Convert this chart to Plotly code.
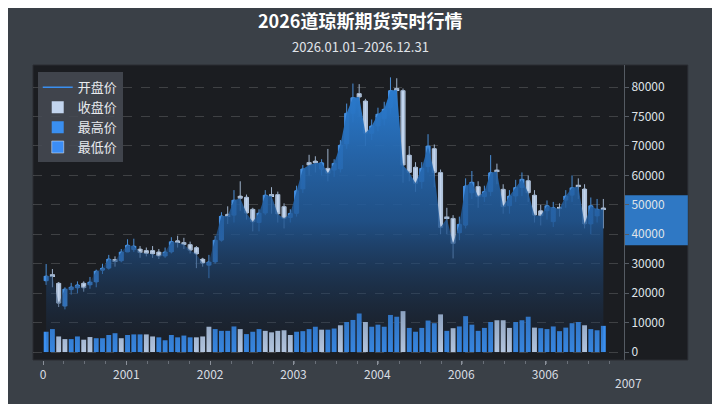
import plotly.graph_objects as go

# candle data (axis units, thousands)
opens = [24.2, 26.2, 23.4, 15.6, 21.2, 21.8, 23.4, 22.8, 23.8, 27.8,
         28.5, 31.4, 31.0, 34.0, 34.8, 35.0, 34.5, 34.5, 34.0, 32.6,
         34.0, 37.8, 37.2, 36.5, 35.5, 31.6, 29.5, 30.6, 38.0, 46.8,
         46.5, 53.0, 52.6, 48.5, 44.0, 47.2, 53.5, 53.5, 49.4, 45.7,
         47.1, 55.4, 64.4, 64.9, 62.1, 62.4, 61.8, 62.2, 70.7, 81.1,
         87.8, 85.3, 74.3, 76.8, 79.3, 83.1, 89.5, 88.8, 66.9, 62.8,
         57.9, 63.0, 69.1, 61.0, 45.8, 45.4, 40.5, 43.1, 54.1, 56.2,
         52.8, 54.5, 61.8, 55.3, 49.7, 53.0, 55.9, 58.2, 53.3, 48.0,
         48.0, 44.3, 49.1, 51.6, 53.3, 56.6, 55.4, 43.5, 46.2, 48.9]
closes = [25.8, 25.8, 16.6, 21.4, 22.1, 22.8, 21.8, 23.8, 27.5, 28.5,
          31.6, 30.9, 34.0, 36.3, 36.0, 33.8, 33.5, 33.3, 32.6, 34.0,
          37.5, 37.2, 36.5, 34.6, 33.3, 30.2, 30.6, 38.0, 46.2, 46.2,
          51.6, 52.2, 47.2, 44.2, 47.2, 53.3, 53.0, 46.9, 45.4, 47.1,
          54.8, 62.2, 63.5, 64.2, 64.3, 60.7, 64.1, 70.3, 81.1, 86.4,
          86.6, 74.3, 76.8, 80.8, 82.5, 88.8, 89.0, 63.5, 61.0, 57.3,
          62.4, 70.0, 61.0, 42.3, 45.4, 36.9, 43.4, 56.4, 57.7, 52.8,
          54.5, 60.9, 61.3, 49.4, 53.0, 55.9, 58.7, 54.1, 46.5, 46.3,
          49.7, 49.0, 48.7, 53.0, 55.8, 56.2, 43.5, 49.7, 48.5, 48.4]
highs = [29.9, 28.2, 23.8, 22.0, 23.5, 24.0, 24.0, 25.5, 28.0, 30.0,
         33.0, 32.5, 35.0, 38.3, 38.5, 36.0, 35.5, 36.0, 35.0, 35.5,
         39.0, 39.5, 38.8, 37.5, 36.0, 32.0, 33.0, 39.5, 47.5, 49.5,
         55.0, 58.0, 53.5, 49.0, 48.5, 55.0, 56.0, 54.5, 50.5, 48.5,
         56.5, 63.5, 67.0, 66.5, 65.5, 69.0, 65.5, 72.0, 84.4, 91.2,
         91.0, 86.0, 79.0, 83.0, 85.0, 93.3, 93.0, 89.5, 70.0, 64.5,
         64.5, 74.0, 70.5, 62.0, 49.0, 46.5, 46.0, 59.0, 61.5, 58.0,
         56.5, 66.9, 64.0, 57.0, 55.0, 58.5, 61.0, 60.0, 55.0, 50.0,
         51.5, 51.0, 50.5, 55.0, 60.0, 59.0, 57.0, 52.5, 52.0, 52.0]
lows = [22.8, 22.0, 15.3, 14.5, 19.5, 20.0, 20.5, 21.5, 22.0, 26.5,
        28.0, 29.0, 30.5, 34.0, 34.0, 32.0, 32.5, 32.0, 31.6, 32.0,
        33.5, 35.5, 35.0, 33.5, 28.5, 29.0, 25.1, 30.0, 37.5, 43.5,
        44.0, 48.0, 45.0, 41.0, 41.0, 46.5, 47.0, 44.0, 42.0, 44.0,
        46.0, 54.0, 60.0, 61.0, 60.0, 58.0, 59.5, 61.0, 69.0, 78.0,
        80.0, 70.0, 72.0, 75.0, 77.0, 81.0, 84.0, 57.5, 58.0, 54.4,
        55.5, 61.0, 56.0, 40.0, 40.0, 31.8, 38.0, 42.0, 52.0, 49.0,
        51.0, 53.0, 57.0, 47.0, 47.0, 51.0, 53.0, 51.0, 44.0, 43.0,
        45.0, 42.5, 46.0, 49.0, 51.0, 52.0, 42.0, 40.0, 44.0, 42.0]
volumes = [6.9, 7.8, 5.3, 4.4, 4.4, 5.3, 4.2, 5.1, 4.7, 4.7,
           5.8, 6.4, 4.7, 5.8, 6.0, 6.0, 6.0, 5.3, 5.0, 4.0,
           5.8, 5.0, 5.6, 5.0, 5.0, 5.3, 8.6, 7.8, 7.2, 7.2,
           8.7, 7.8, 6.1, 6.9, 7.8, 7.2, 6.7, 7.2, 7.4, 5.8,
           6.9, 7.1, 7.8, 8.6, 7.6, 7.6, 8.0, 9.1, 10.2, 10.9,
           13.1, 10.2, 8.6, 9.3, 8.6, 12.6, 12.0, 13.9, 8.2, 6.9,
           8.2, 10.7, 9.8, 12.8, 7.2, 8.1, 8.7, 12.2, 9.3, 7.2,
           8.2, 10.2, 10.8, 10.8, 8.2, 10.2, 10.8, 12.0, 8.3, 8.1,
           7.8, 8.7, 7.1, 8.3, 9.8, 10.2, 9.1, 7.8, 7.4, 8.9]
vol_light = [2, 3, 6, 7, 12, 16, 17, 24, 25, 26, 31, 35, 36, 37, 38, 39,
             44, 47, 51, 57, 63, 65, 72, 73, 74, 78, 86]

tick_pos = [-0.5, 12.8, 26.2, 39.5, 52.9, 66.3, 79.7]
tick_text = ["0", "2001", "2002", "2003", "2004", "2006", "3006"]
y_tickvals = [0, 10000, 20000, 30000, 40000, 50000, 60000, 70000, 80000, 90000]
y_ticktext = ["0", "10000", "20000", "30000", "40000", "50000", "60000",
              "70000", "75000", "80000"]

BLUE = "#3a8ff0"
LIGHT = "#c3d5ee"

x = list(range(len(opens)))
k = 1000
fig = go.Figure()

fig.add_trace(go.Scatter(
    x=x, y=[c * k for c in closes], mode="lines", line=dict(width=0),
    fill="tozeroy",
    fillgradient=dict(type="vertical",
                      colorscale=[[0, "rgba(25,45,75,0.1)"], [0.5, "rgba(33,88,150,0.85)"],
                                  [1, "rgba(42,122,205,1)"]]),
    showlegend=False, hoverinfo="skip"))

fig.add_trace(go.Scatter(x=[None], y=[None], mode="lines",
                         line=dict(color=BLUE, width=1.5), name="开盘价"))

vx_l = [i for i in x if i in vol_light]
vx_b = [i for i in x if i not in vol_light]
fig.add_trace(go.Bar(x=vx_l, y=[volumes[i] * k for i in vx_l], marker_color=LIGHT,
                     marker_line_width=0, width=0.78, name="收盘价"))
fig.add_trace(go.Bar(x=vx_b, y=[volumes[i] * k for i in vx_b], marker_color=BLUE,
                     marker_line_width=0, width=0.78, name="最高价"))
fig.add_trace(go.Bar(x=[None], y=[None], marker_color="#3b8df5", name="最低价"))

# wicks
fig.add_trace(go.Candlestick(
    x=x, open=[v * k for v in opens], high=[v * k for v in highs],
    low=[v * k for v in lows], close=[v * k for v in closes],
    increasing=dict(line=dict(color="#4a8fd8", width=1), fillcolor=BLUE),
    decreasing=dict(line=dict(color="#9fb3cc", width=1), fillcolor=LIGHT),
    whiskerwidth=0, showlegend=False, hoverinfo="skip"))

# bodies
for up, col in [(True, BLUE), (False, LIGHT)]:
    idx = [i for i in x if (closes[i] >= opens[i]) == up]
    fig.add_trace(go.Bar(
        x=idx, base=[min(opens[i], closes[i]) * k for i in idx],
        y=[max(abs(closes[i] - opens[i]), 0.6) * k for i in idx],
        marker_color=col, marker_line_width=0, width=0.8, showlegend=False))

fig.update_layout(
    width=712, height=396,
    margin=dict(l=25, r=96, t=57, b=44, autoexpand=False),
    paper_bgcolor="#3a4047", plot_bgcolor="rgba(0,0,0,0)",
    font=dict(family="Noto Sans CJK SC, Noto Sans", color="#e6e9ee", size=11),
    barmode="overlay",
    xaxis=dict(range=[-2.1, 92.3], rangeslider=dict(visible=False),
               tickvals=tick_pos, ticktext=tick_text, showgrid=False,
               ticks="outside", ticklen=4, tickcolor="#8a9099",
               minor=dict(dtick=3.35, tick0=-0.5, ticks="outside", ticklen=3, tickcolor="#6a7079"),
               zeroline=False, tickfont=dict(size=12, color="#d8dce2")),
    yaxis=dict(side="right", range=[-2700, 97500], tickvals=y_tickvals, ticktext=y_ticktext,
               showgrid=True, gridcolor="rgba(255,255,255,0.16)", griddash="dash",
               showline=True, linecolor="#555b63", zeroline=False, ticks="outside",
               ticklen=4, tickcolor="#555b63",
               tickfont=dict(size=12, color="#dfe3e8")),
    legend=dict(x=0.008, y=0.975, xanchor="left", yanchor="top",
                bgcolor="rgba(70,75,84,0.85)", font=dict(size=13, color="#e8ebef"),
                itemwidth=30, tracegroupgap=3),
    shapes=[
        dict(type="rect", xref="paper", yref="paper", x0=0, x1=1.108, y0=0, y1=1,
             fillcolor="#1b1d21", line=dict(color="#2a2d33", width=1), layer="below"),
        dict(type="rect", xref="paper", yref="y", x0=1.0, x1=1.108, y0=36300, y1=53300,
             fillcolor="#2f78c4", line=dict(width=0), layer="below"),
    ],
    annotations=[
        dict(text="<b>2026道琼斯期货实时行情</b>", x=0.554, y=1, xref="paper", yref="paper",
             xanchor="center", yanchor="bottom", yshift=30, showarrow=False,
             font=dict(size=18, color="#ffffff")),
        dict(text="2026.01.01–2026.12.31", x=0.554, y=1, xref="paper", yref="paper",
             xanchor="center", yanchor="bottom", yshift=7, showarrow=False,
             font=dict(size=13, color="#e0e4ea")),
        dict(text="2007", x=1.007, y=0, xref="paper", yref="paper", xanchor="center",
             yanchor="top", yshift=-12, showarrow=False, font=dict(size=12, color="#d8dce2")),
    ],
)

fig.write_html("out.html")
